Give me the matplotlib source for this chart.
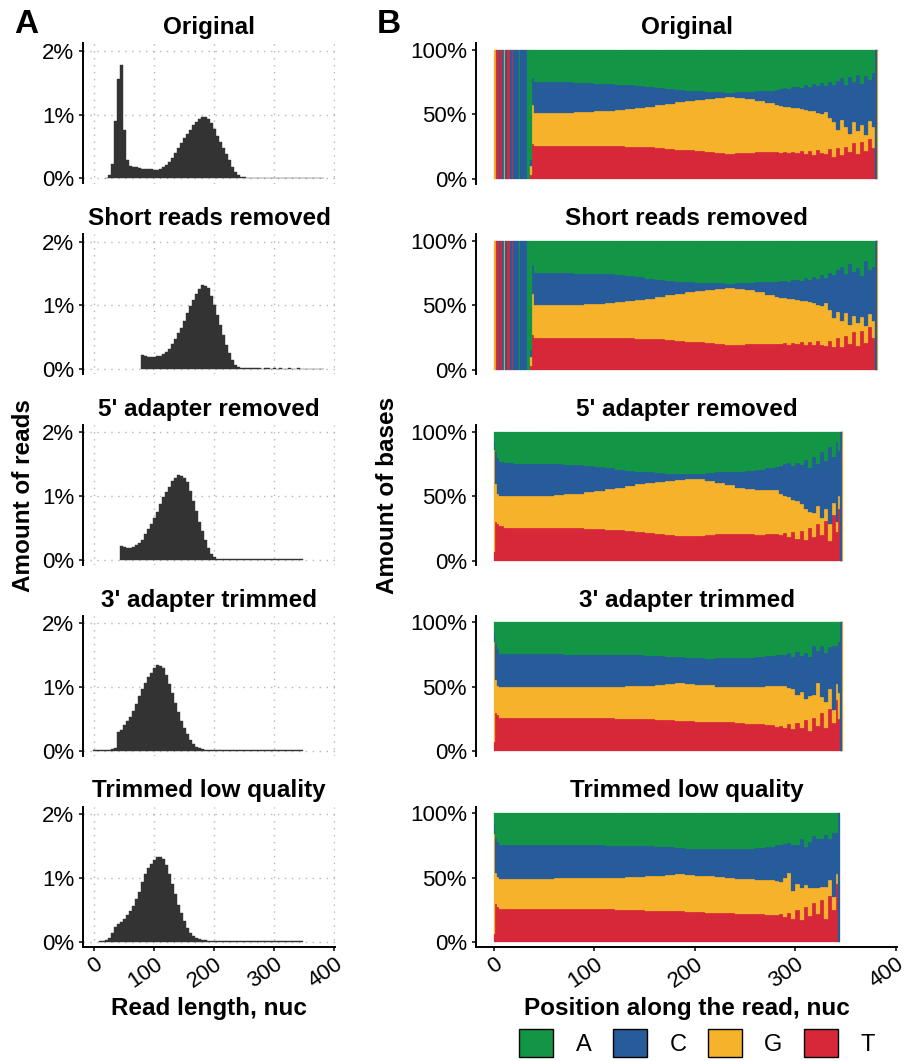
import numpy as np
import matplotlib
matplotlib.use("Agg")
import matplotlib.pyplot as plt
from matplotlib.patches import Patch

plt.rcParams['font.family'] = ['Liberation Sans', 'DejaVu Sans']

# ---------------- data ----------------
titles = ["Original", "Short reads removed", "5' adapter removed",
          "3' adapter trimmed", "Trimmed low quality"]

# read length histograms (% of reads), one value every 5 nuc from the start value
hist_step = 5
orig_len_start = 20
orig_len = [0.01, 0.06, 0.22, 0.90, 1.55, 1.78, 0.75, 0.28, 0.19, 0.18, 0.17, 0.16, 0.15, 0.15,
            0.14, 0.14, 0.13, 0.13, 0.14, 0.17, 0.21, 0.26, 0.32, 0.40, 0.48, 0.56, 0.63, 0.70,
            0.76, 0.83, 0.89, 0.93, 0.96, 0.96, 0.93, 0.86, 0.77, 0.67, 0.57, 0.47, 0.38, 0.28,
            0.18, 0.10, 0.05, 0.025, 0.015,
            0.012, 0.011, 0.012, 0.010, 0.011, 0.010, 0.010, 0.011, 0.010, 0.009, 0.010, 0.010,
            0.009, 0.010, 0.009, 0.010, 0.009, 0.010, 0.008, 0.010, 0.009, 0.008, 0.010, 0.009,
            0.008, 0.009]
short_len_start = 80
short_len = [0.22, 0.20, 0.19, 0.19, 0.19, 0.20, 0.21, 0.23, 0.27, 0.32, 0.39, 0.47, 0.56, 0.65,
             0.76, 0.88, 0.99, 1.08, 1.17, 1.25, 1.32, 1.30, 1.27, 1.15, 1.00, 0.85, 0.69, 0.53,
             0.38, 0.26, 0.14, 0.07, 0.03, 0.015,
             0.012, 0.011, 0.010, 0.011, 0.010, 0.010, 0.009, 0.010, 0.010, 0.009, 0.010, 0.009,
             0.010, 0.009, 0.009, 0.010, 0.008, 0.009, 0.010, 0.008, 0.009, 0.008, 0.009, 0.008,
             0.009, 0.008, 0.008]
five_len_start = 45
five_len = [0.22, 0.20, 0.19, 0.19, 0.20, 0.23, 0.27, 0.32, 0.40, 0.48, 0.57, 0.65, 0.75, 0.88,
            0.99, 1.07, 1.15, 1.23, 1.29, 1.33, 1.31, 1.29, 1.22, 1.08, 0.92, 0.76, 0.60, 0.45,
            0.31, 0.19, 0.10, 0.05, 0.02,
            0.012, 0.011, 0.010, 0.011, 0.010, 0.010, 0.009, 0.010, 0.010, 0.009, 0.010, 0.009,
            0.010, 0.009, 0.009, 0.010, 0.008, 0.009, 0.010, 0.008, 0.009, 0.008, 0.009, 0.008,
            0.009, 0.008, 0.008, 0.008]
three_len_start = 0
three_len = [0.004, 0.004, 0.005, 0.006, 0.010, 0.015, 0.03, 0.05, 0.29, 0.33, 0.40, 0.46, 0.53,
             0.62, 0.73, 0.85, 0.96, 1.06, 1.15, 1.22, 1.29, 1.34, 1.32, 1.29, 1.18, 1.05, 0.91,
             0.75, 0.60, 0.47, 0.36, 0.26, 0.17, 0.11, 0.06, 0.035, 0.02,
             0.012, 0.011, 0.010, 0.011, 0.010, 0.010, 0.009, 0.010, 0.010, 0.009, 0.010, 0.009,
             0.010, 0.009, 0.009, 0.010, 0.008, 0.009, 0.010, 0.008, 0.009, 0.008, 0.009, 0.008,
             0.009, 0.008, 0.008, 0.008, 0.009, 0.008, 0.008, 0.008, 0.008]
trim_len_start = 10
trim_len = [0.005, 0.01, 0.02, 0.06, 0.13, 0.22, 0.28, 0.31, 0.36, 0.42, 0.48, 0.56, 0.66, 0.78,
            0.93, 1.06, 1.15, 1.22, 1.28, 1.33, 1.33, 1.30, 1.20, 1.06, 0.90, 0.74, 0.58, 0.44,
            0.32, 0.21, 0.14, 0.09, 0.06, 0.04, 0.03, 0.02,
            0.012, 0.011, 0.010, 0.011, 0.010, 0.010, 0.009, 0.010, 0.010, 0.009, 0.010, 0.009,
            0.010, 0.009, 0.009, 0.010, 0.008, 0.009, 0.010, 0.008, 0.009, 0.008, 0.009, 0.008,
            0.009, 0.008, 0.008, 0.008, 0.009, 0.008, 0.008, 0.008]

# base composition (% of bases) by position; first base positions are the 5' adapter
adapter_seq = "GGTTTCTTCCGCCTTTCCTCCCCCCACCCCCCCAAA"

orig_pos = [36, 38] + list(range(40, 281, 10)) + list(range(284, 377, 4)) + [379, 381]
orig_end = 382
orig_T = [3, 27, 25.6, 25.6, 25.6, 25.6, 25.6, 25.6, 25.6, 25.4, 25.2, 25.0, 24.8, 24.5, 24.0,
          23.4, 22.8, 22.3, 22.0, 21.3, 20.3, 19.4, 19.8, 20.4, 20.6, 20.8, 21.0,
          20.5, 21.2, 19.8, 20.6, 20.0, 21.5, 19.5, 22.0, 18.8, 22.5, 20.0, 19.0, 23.0, 17.0,
          24.0, 18.5, 25.0, 21.0, 28.0, 19.0, 29.0, 22.0, 31.0, 24.0, 0, 0]
orig_G = [7, 30, 25.4, 25.4, 25.7, 25.9, 26.2, 26.4, 26.9, 27.6, 28.6, 29.5, 30.5, 31.5, 33.0,
          34.9, 36.7, 38.0, 39.0, 40.5, 42.3, 43.9, 43.2, 41.4, 39.9, 37.9, 36.0,
          36.0, 34.8, 35.7, 34.6, 35.0, 33.0, 34.3, 31.0, 33.7, 29.0, 30.0, 33.0, 24.0, 27.0,
          14.0, 27.5, 15.0, 14.0, 16.0, 18.0, 13.0, 12.0, 14.0, 16.0, 0, 100]
orig_C = [5, 21, 24.5, 24.5, 24.0, 23.5, 22.9, 22.3, 21.5, 20.5, 19.2, 18.0, 16.7, 15.6, 13.8,
          11.7, 9.8, 8.3, 7.0, 5.8, 4.7, 3.7, 4.3, 5.9, 7.7, 9.9, 12.0,
          13.0, 14.5, 14.3, 16.3, 16.6, 15.7, 19.0, 18.5, 21.0, 20.5, 24.5, 20.0, 28.5, 29.0,
          38.0, 32.0, 33.0, 44.0, 31.0, 44.0, 32.0, 46.0, 32.0, 42.0, 100, 0]
orig_A = [85, 22, 24.5, 24.5, 24.7, 25.0, 25.3, 25.7, 26.0, 26.5, 27.0, 27.5, 28.0, 28.4, 29.2,
          30.0, 30.7, 31.4, 32.0, 32.4, 32.7, 33.0, 32.7, 32.3, 31.8, 31.4, 31.0,
          30.5, 29.5, 30.2, 28.5, 28.4, 29.8, 27.2, 28.5, 26.5, 28.0, 25.5, 28.0, 24.5, 27.0,
          24.0, 22.0, 27.0, 21.0, 25.0, 19.0, 26.0, 20.0, 23.0, 18.0, 0, 0]

short_pos = orig_pos
short_end = 382
short_T = [3, 26.7, 24.9, 24.9, 24.9, 24.9, 24.9, 24.9, 24.9, 24.8, 24.6, 24.4, 24.2, 24.0, 23.5,
           23.0, 22.4, 21.9, 21.5, 20.6, 19.7, 18.9, 19.3, 19.7, 19.9, 20.1, 20.2,
           20.0, 20.8, 19.5, 20.6, 19.8, 21.2, 19.4, 21.8, 18.9, 22.2, 19.5, 18.7, 22.6, 17.4,
           24.5, 18.0, 26.0, 20.0, 29.0, 18.5, 30.0, 21.0, 33.0, 25.0, 0, 0]
short_G = [7, 31.8, 25.1, 25.3, 25.4, 25.6, 25.7, 25.8, 25.9, 26.7, 27.7, 28.9, 30.0, 31.2, 33.0,
           34.8, 36.6, 38.3, 39.6, 41.4, 43.2, 44.6, 43.4, 42.0, 40.3, 38.2, 36.3,
           35.8, 34.7, 35.5, 34.0, 34.4, 32.3, 33.6, 30.4, 32.8, 28.4, 30.3, 32.8, 23.9, 22.6,
           20.5, 20.0, 18.0, 15.0, 13.0, 17.5, 11.0, 13.0, 10.0, 13.0, 0, 100]
short_C = [5, 22.5, 25.0, 24.7, 24.5, 24.2, 24.0, 23.9, 23.8, 22.5, 21.0, 19.2, 17.4, 15.5, 13.3,
           11.2, 9.3, 7.6, 6.3, 5.1, 4.0, 3.3, 4.5, 5.9, 7.6, 9.7, 11.6,
           12.7, 13.5, 13.2, 14.9, 15.5, 15.7, 17.8, 17.6, 20.1, 20.0, 23.4, 19.7, 28.5, 33.5,
           32.0, 42.0, 30.0, 47.0, 34.0, 43.0, 32.0, 50.0, 34.0, 42.0, 100, 0]
short_A = [85, 19.0, 25.0, 25.1, 25.2, 25.3, 25.4, 25.4, 25.4, 26.0, 26.7, 27.5, 28.4, 29.3, 30.2,
           31.0, 31.7, 32.2, 32.6, 32.9, 33.1, 33.2, 32.8, 32.4, 32.2, 32.0, 31.9,
           31.5, 31.0, 31.8, 30.5, 30.3, 30.8, 29.2, 30.2, 28.2, 29.4, 26.8, 28.8, 25.0, 26.5,
           23.0, 20.0, 26.0, 18.0, 24.0, 21.0, 27.0, 16.0, 23.0, 20.0, 0, 0]

five_pos = [0, 1, 3, 5] + list(range(10, 281, 10)) + list(range(284, 341, 4)) + [342, 344, 346]
five_end = 347
five_T = [6.5, 29.9, 28.6, 26.5, 25.5, 25.5, 25.5, 25.5, 25.5, 25.3, 25.2, 25.0, 24.7, 24.4,
          23.9, 23.4, 22.8, 22.2, 21.6, 20.8, 20.0, 19.3, 18.7, 19.2, 19.8, 20.3, 20.6, 20.8,
          20.4, 20.0, 20.4, 20.8,
          19.5, 21.5, 18, 22, 17, 23, 16, 25, 18, 28, 20, 31, 15, 35, 22, 40, 0, 0]
five_G = [79.2, 29.8, 22.8, 23.5, 24.5, 24.6, 24.7, 24.8, 24.9, 25.5, 26.1, 27.0, 28.1, 29.4,
          31.3, 33.2, 35.2, 37.0, 38.7, 40.3, 41.8, 43.1, 44.2, 43.9, 42.2, 40.0, 37.7, 35.6,
          35.3, 35.0, 34.4, 33.7,
          32.5, 28.5, 31, 25, 29, 21, 24, 13, 19, 14, 13, 9, 13, 10, 8, 10, 0, 100]
five_C = [6.5, 24.7, 27.8, 26.5, 25.3, 25.1, 24.9, 24.7, 24.4, 23.7, 22.9, 21.8, 20.5, 18.9,
          16.2, 13.5, 11.5, 9.7, 8.0, 6.8, 5.7, 4.7, 3.9, 4.4, 5.9, 8.0, 10.0, 11.9,
          13.5, 15.1, 16.6, 18.2,
          21, 24.5, 26.5, 26, 30, 30, 38, 34, 43, 33, 51, 37, 60, 35, 62, 35, 100, 0]
five_A = [7.8, 15.6, 20.8, 23.5, 24.7, 24.8, 24.9, 25.0, 25.2, 25.5, 25.8, 26.2, 26.7, 27.3,
          28.6, 29.9, 30.5, 31.1, 31.7, 32.1, 32.5, 32.9, 33.2, 32.5, 32.1, 31.7, 31.7, 31.7,
          30.8, 29.9, 28.6, 27.3,
          27, 25.5, 24.5, 27, 24, 26, 22, 28, 20, 25, 16, 23, 12, 20, 8, 15, 0, 0]

three_pos = five_pos
three_end = 347
three_T = [7, 30, 28, 25.8, 25.8, 25.9, 25.8, 25.8, 25.7, 25.7, 25.6, 25.6, 25.6, 25.6, 25.5,
           25.4, 25.3, 25.1, 25.0, 24.6, 24.2, 23.8, 23.4, 23.0, 22.8, 22.6, 22.5, 22.0, 21.6,
           21.2, 20.2, 19.0,
           20, 18.5, 21, 17, 22, 18, 24, 16, 26, 20, 30, 18, 33, 22, 40, 25, 0, 0]
three_G = [77.5, 25, 23, 23.8, 23.8, 23.7, 23.8, 23.9, 23.9, 23.9, 24.0, 24.0, 24.0, 24.0, 24.3,
           24.8, 25.2, 25.6, 26.0, 26.8, 27.8, 29.2, 29.0, 28.7, 28.3, 27.5, 27.1, 27.9, 28.5,
           28.8, 30.5, 32.0,
           30.5, 32, 28, 31, 22, 28, 17, 27, 18, 33, 12, 20, 15, 10, 12, 20, 0, 100]
three_C = [7.5, 29, 28, 25.9, 25.9, 26.0, 25.8, 25.7, 25.7, 25.6, 25.3, 25.2, 25.1, 25.1, 24.8,
           24.4, 24.1, 23.7, 23.2, 22.2, 20.9, 19.9, 19.9, 20.4, 20.8, 22.0, 22.5, 22.5, 22.6,
           22.9, 23.1, 23.7,
           24, 24.5, 27, 25, 33, 28, 35, 30, 38, 25, 40, 38, 33, 50, 30, 40, 100, 0]
three_A = [8, 16, 21, 24.5, 24.5, 24.4, 24.6, 24.6, 24.7, 24.8, 25.1, 25.2, 25.3, 25.3, 25.4,
           25.4, 25.4, 25.6, 25.8, 26.4, 27.1, 27.1, 27.7, 27.9, 28.1, 27.9, 27.9, 27.6, 27.3,
           27.1, 26.2, 25.3,
           25.5, 25, 24, 27, 23, 26, 24, 27, 18, 22, 18, 24, 19, 18, 18, 15, 0, 0]

trim_pos = [0, 1, 3, 5] + list(range(10, 281, 10)) + list(range(284, 341, 4)) + [342]
trim_end = 344
trim_T = [6, 29.7, 27.5, 25.8, 25.8, 25.9, 25.8, 25.8, 25.8, 25.8, 25.8, 25.8, 25.8, 25.8, 25.6,
          25.3, 25.0, 24.8, 24.5, 24.3, 24.0, 23.8, 23.5, 23.3, 23.0, 22.8, 22.5, 22.2, 22.0,
          21.6, 21.2, 20.7,
          21.5, 19.5, 23, 18, 25, 17, 27, 20, 30, 22, 33, 18, 36, 25, 45, 0]
trim_G = [78, 24, 23, 23.2, 23.2, 23.1, 23.3, 23.4, 23.5, 23.7, 23.8, 23.8, 23.8, 23.8, 24.3,
          24.8, 25.3, 25.8, 26.5, 27.3, 28.0, 28.7, 28.5, 28.4, 28.0, 27.4, 26.9, 26.8, 27.0,
          26.9, 26.8, 27.1,
          25.5, 30, 31, 22, 20, 25, 17, 22, 12, 20, 10, 25, 12, 10, 8, 0]
trim_C = [8, 27, 27, 26.5, 26.5, 26.6, 26.4, 26.2, 26.0, 25.6, 25.4, 25.4, 25.4, 25.4, 25.0,
          24.6, 24.1, 23.6, 23.2, 22.3, 21.5, 20.4, 20.6, 20.7, 21.2, 22.0, 23.0, 23.4, 23.4,
          24.5, 25.5, 27.2,
          28, 26.5, 23, 35, 30, 38, 30, 36, 40, 38, 37, 40, 32, 50, 32, 100]
trim_A = [8, 19.3, 22.5, 24.5, 24.5, 24.4, 24.5, 24.6, 24.7, 24.9, 25.0, 25.0, 25.0, 25.0, 25.1,
          25.3, 25.6, 25.8, 25.8, 26.1, 26.5, 27.1, 27.4, 27.6, 27.8, 27.8, 27.6, 27.6, 27.6,
          27.0, 26.5, 25.0,
          25, 24, 23, 25, 25, 20, 26, 22, 18, 20, 20, 17, 20, 15, 15, 0]

base_colors = {'A': '#129646', 'C': '#255C99', 'G': '#F7B22B', 'T': '#D62839'}

hist_sets = [(orig_len_start, orig_len), (short_len_start, short_len), (five_len_start, five_len),
             (three_len_start, three_len), (trim_len_start, trim_len)]
comp_sets = [(orig_pos, orig_end, orig_T, orig_G, orig_C, orig_A, adapter_seq),
             (short_pos, short_end, short_T, short_G, short_C, short_A, adapter_seq),
             (five_pos, five_end, five_T, five_G, five_C, five_A, ''),
             (three_pos, three_end, three_T, three_G, three_C, three_A, ''),
             (trim_pos, trim_end, trim_T, trim_G, trim_C, trim_A, '')]

# ---------------- figure ----------------
W, H = 907, 1061
fig = plt.figure(figsize=(W / 100, H / 100), dpi=100)


def px_axes(left, top, width, height):
    return fig.add_axes([left / W, 1 - (top + height) / H, width / W, height / H])


tick_fs = 16
title_fs = 17.5
label_fs = 17.5
row_gap = 190.8
ax_top0, ax_h = 43.3, 140.2


def style_axis(ax, last):
    for s in ['top', 'right']:
        ax.spines[s].set_visible(False)
    ax.spines['left'].set_linewidth(1.4)
    ax.spines['bottom'].set_linewidth(1.4)
    ax.spines['bottom'].set_visible(last)
    ax.tick_params(axis='y', length=3, width=1.1, labelsize=tick_fs, pad=3.5, color='black')
    if last:
        ax.tick_params(axis='x', length=3, width=1.1, labelsize=tick_fs, pad=2)
        ax.set_xticks([0, 100, 200, 300, 400])
        for lab in ax.get_xticklabels():
            lab.set_rotation(35)
            lab.set_ha('right')
            lab.set_va('top')
            lab.set_rotation_mode('anchor')
    else:
        ax.tick_params(axis='x', bottom=False, labelbottom=False)


for k in range(5):
    top = ax_top0 + k * row_gap
    last = k == 4

    # left: read length distribution
    ax = px_axes(83.3, top, 251.5, ax_h)
    start, vals = hist_sets[k]
    x = start + hist_step * np.arange(len(vals))
    ax.bar(x, vals, width=hist_step, color='#333333', edgecolor='#333333', linewidth=0.3, zorder=2)
    ax.set_xlim(-18.3, 400.5)
    ax.set_ylim(-0.081, 2.116)
    ax.set_xticks([0, 100, 200, 300, 400])
    ax.set_yticks([0, 1, 2])
    ax.set_yticklabels(['0%', '1%', '2%'])
    ax.grid(True, color='#b5b5b5', linestyle=(0, (1, 4)), linewidth=1.0, zorder=0)
    ax.set_axisbelow(True)
    style_axis(ax, last)
    ax.set_title(titles[k], fontsize=title_fs, fontweight='bold', pad=6.5)

    # right: base composition along the read
    ax2 = px_axes(476, top, 421.5, ax_h)
    pos, end, T, G, C, A, adapter = comp_sets[k]
    for i, b in enumerate(adapter):
        ax2.bar(i, 100, width=1, align='edge', color=base_colors[b],
                edgecolor=base_colors[b], linewidth=0.2)
    pos = np.asarray(pos, dtype=float)
    widths = np.diff(np.append(pos, end))
    bottom = np.zeros(len(pos))
    for vals_b, b in zip([T, G, C, A], 'TGCA'):
        vals_b = np.asarray(vals_b, dtype=float)
        ax2.bar(pos, vals_b, widths, bottom=bottom, align='edge', color=base_colors[b],
                edgecolor=base_colors[b], linewidth=0.2)
        bottom += vals_b
    ax2.set_xlim(-17.9, 401.5)
    ax2.set_ylim(-3.5, 105.2)
    ax2.set_yticks([0, 50, 100])
    ax2.set_yticklabels(['0%', '50%', '100%'])
    style_axis(ax2, last)
    ax2.set_title(titles[k], fontsize=title_fs, fontweight='bold', pad=6.5)

# panel letters and shared labels
fig.text(14 / W, 1 - 33 / H, 'A', fontsize=24, fontweight='bold', va='baseline')
fig.text(377 / W, 1 - 33 / H, 'B', fontsize=24, fontweight='bold', va='baseline')
fig.text(24 / W, 1 - 495.5 / H, 'Amount of reads', rotation=90, ha='center', va='center',
         fontsize=label_fs, fontweight='bold')
fig.text(387 / W, 1 - 495.5 / H, 'Amount of bases', rotation=90, ha='center', va='center',
         fontsize=label_fs, fontweight='bold')
fig.text(209 / W, 1 - 1008 / H, 'Read length, nuc', ha='center', va='center',
         fontsize=label_fs, fontweight='bold')
fig.text(687 / W, 1 - 1008 / H, 'Position along the read, nuc', ha='center', va='center',
         fontsize=label_fs, fontweight='bold')

handles = [Patch(facecolor=base_colors[b], edgecolor='black', linewidth=1.0) for b in 'ACGT']
fig.legend(handles, list('ACGT'), ncol=4, loc='center', bbox_to_anchor=(697 / W, 1 - 1043 / H),
           frameon=False, fontsize=17, handlelength=1.45, handleheight=1.45,
           handletextpad=0.95, columnspacing=0.9, borderpad=0, borderaxespad=0)

fig.savefig('out.png', dpi=100)
